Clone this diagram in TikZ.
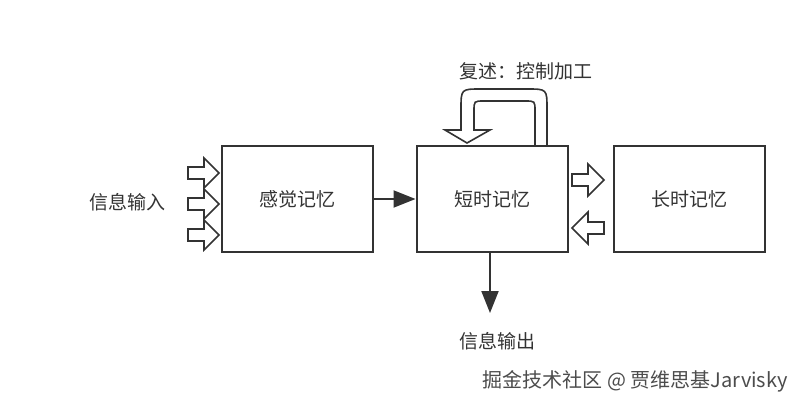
\documentclass[tikz,border=0pt]{standalone}
\usepackage{fontspec}
\setmainfont{Noto Sans CJK SC}
\usetikzlibrary{arrows.meta}
\definecolor{ink}{HTML}{333333}
\tikzset{
  box/.style={draw=ink, line width=2pt, fill=white, minimum width=151pt, minimum height=105pt, inner sep=0pt, text=ink, font=\fontsize{19}{21}\selectfont},
  lbl/.style={text=ink, inner sep=0pt, font=\fontsize{19}{21}\selectfont},
  blk/.style={draw=ink, line width=1.6pt, fill=white, line join=miter},
  conn/.style={draw=ink, line width=2pt, -{Triangle[length=22pt,width=17pt]}},
  rblock/.pic={\draw[blk] (0,-6) -- (16,-6) -- (16,-16) -- (32,0) -- (16,16) -- (16,6) -- (0,6) -- cycle;},
  rblocks/.pic={\draw[blk] (0,-6) -- (16,-6) -- (16,-15) -- (31,0) -- (16,15) -- (16,6) -- (0,6) -- cycle;}
}
\begin{document}
\begin{tikzpicture}[x=1pt,y=-1pt]
\useasboundingbox (0,0) rectangle (802,406);
\fill[white] (0,0) rectangle (802,406);
% input arrows
\pic at (188,173) {rblocks};
\pic at (188,204) {rblocks};
\pic at (188,235) {rblocks};
% boxes
\node[box] (s) at (297,199) {\raisebox{-3pt}{感觉记忆}};
\node[box] (m) at (492,199) {\raisebox{-3pt}{短时记忆}};
\node[box] (l) at (689,199) {\raisebox{-3pt}{长时记忆}};
% labels
\node[lbl] (in) at (127,202) {信息输入};
\node[lbl] (out) at (497,341) {信息输出};
\node[lbl] (rep) at (526,71) {复述：控制加工};
% connectors
\draw[conn] (s.east) -- (m.west);
\draw[conn] (m.south -| 490,0) -- (490,313);
% between short and long term
\pic at (572,180) {rblock};
\pic[xscale=-1] at (604,228) {rblock};
% loop arrow
\draw[blk] (535,146) -- (547,146) -- (547,109) .. controls (547,89) .. (527,89)
  -- (481,89) .. controls (461,89) .. (461,109) -- (461,130) -- (445,130) -- (467,143)
  -- (490,130) -- (474,130) -- (474,111) .. controls (474,101) .. (484,101)
  -- (525,101) .. controls (535,101) .. (535,111) -- cycle;
% watermark
\node[anchor=east, inner sep=0pt, text=black!70, font=\fontsize{20}{22}\selectfont] (wm) at (788,381) {掘金技术社区 @ 贾维思基Jarvisky};
\end{tikzpicture}
\end{document}
